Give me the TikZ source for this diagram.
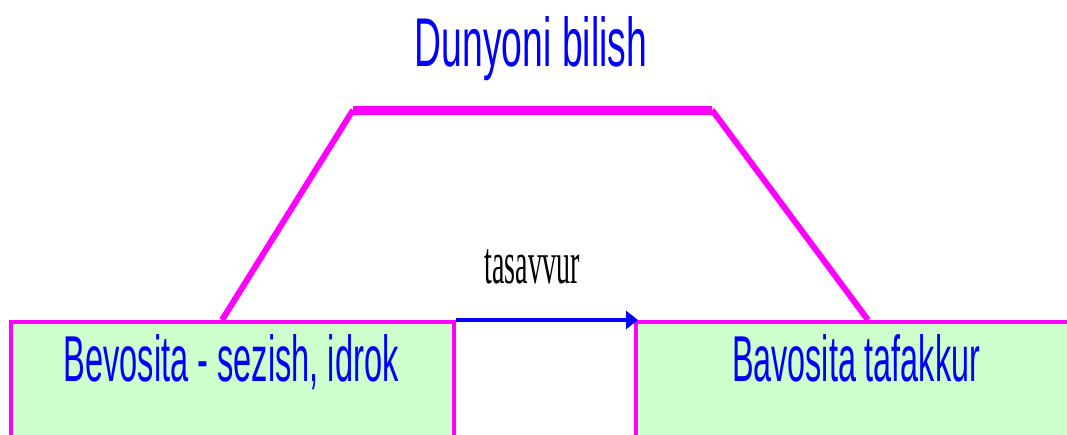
\documentclass[tikz,border=0pt]{standalone}
\usepackage{fontspec}
\setmainfont{Liberation Sans}
\newfontfamily\serifnarrow{Liberation Serif}
\usetikzlibrary{arrows.meta}
\definecolor{mag}{RGB}{255,0,255}
\definecolor{bl}{RGB}{0,0,255}
\definecolor{lgreen}{RGB}{204,255,204}
\tikzset{
  box/.style={draw=mag, line width=3.5pt, fill=lgreen, anchor=north west, inner sep=0pt},
  lbl/.style={text=bl, anchor=base, inner sep=0pt},
  side/.style={draw=mag, line width=6pt},
  topbar/.style={draw=mag, line width=9pt},
  link/.style={draw=bl, line width=4pt, -{Triangle[length=12pt,width=18pt]}, shorten >=-4pt},
}
\begin{document}
\begin{tikzpicture}[x=1pt,y=-1pt]
\useasboundingbox (0,0) rectangle (1067,434);
\clip (0,0) rectangle (1067,434);
% boxes
\node[box, minimum width=443pt, minimum height=150pt] (lb) at (9,320) {};
\node[box, minimum width=460pt, minimum height=150pt] (rb) at (634,320) {};
% trapezoid
\coordinate (tl) at (353,110);
\coordinate (tr) at (712,110);
\coordinate (bl) at (222,320);
\coordinate (br) at (868,320);
\draw[side] (bl) -- (tl);
\draw[side] (tr) -- (br);
\draw[topbar] (tl) -- (tr);
% arrow
\draw[link] (lb.north east) -- (rb.north west);
% labels
\node[lbl] (title) at (531,66) {\resizebox{232pt}{50pt}{Dunyoni bilish}};
\node[lbl, text=black] (tas) at (532,283) {\resizebox{95pt}{34pt}{\serifnarrow tasavvur}};
\node[lbl] (lt) at (231,381) {\resizebox{335pt}{47pt}{Bevosita - sezish, idrok}};
\node[lbl] (rt) at (856,381) {\resizebox{248pt}{47pt}{Bavosita tafakkur}};
\end{tikzpicture}
\end{document}
